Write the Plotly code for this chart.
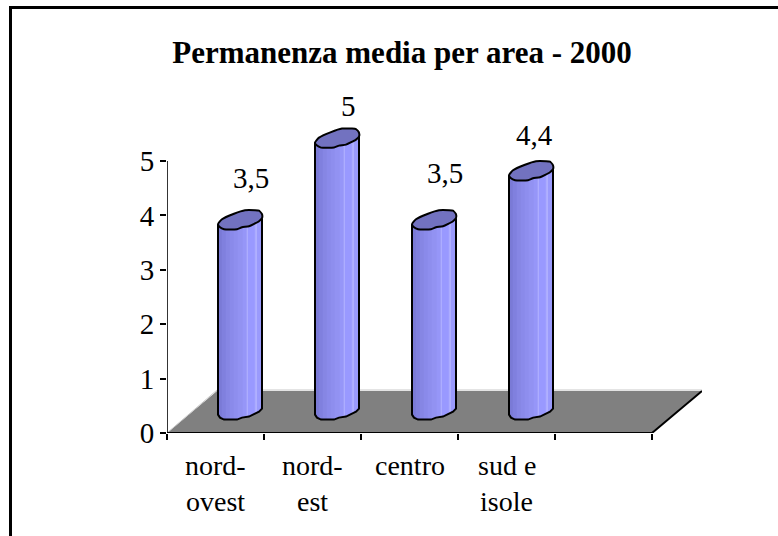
import numpy as np
import plotly.graph_objects as go

categories_line1 = ["nord-", "nord-", "centro", "sud e"]
categories_line2 = ["ovest", "est", "", "isole"]
values = [3.5, 5, 3.5, 4.4]
value_labels = ["3,5", "5", "3,5", "4,4"]
y_ticks = [0, 1, 2, 3, 4, 5]
x_ticks = [0, 1, 2, 3, 4, 5]
title = "Permanenza media per area - 2000"

W, H = 778, 536
L, R, B, T = 167, 702, 433, 70
PX_X = 97.0
PX_Y = 54.4
FONT = "Liberation Serif"

def ux(px):
    return px / PX_X
def uy(px):
    return px / PX_Y

fig = go.Figure()

DX, DY = 50, 42
fx = [0, 5, 5 + ux(DX), ux(DX), 0]
fy = [0, 0, uy(DY), uy(DY), 0]
fig.add_trace(go.Scatter(x=fx, y=fy, mode="lines", fill="toself", fillcolor="#808080",
                         line=dict(width=0), hoverinfo="skip", showlegend=False))
fig.add_trace(go.Scatter(x=[0, ux(DX), 5 + ux(DX)], y=[0, uy(DY + 1), uy(DY + 1)], mode="lines",
                         line=dict(color="#c8c8c8", width=1), hoverinfo="skip", showlegend=False))
fig.add_trace(go.Scatter(x=[5, 5 + ux(DX)], y=[0, uy(DY)], mode="lines",
                         line=dict(color="black", width=2), hoverinfo="skip", showlegend=False))

BW = 44
low_u = [0, 2, 6, 19, 24, 31, 41, 44]
low_v = [-5, -2, 0, 0, -2, -3, -8, -11]
top_u = [44, 41, 37, 27, 16, 4, 0]
top_v = [-15, -18.5, -19, -19, -15.5, -10, -5]
strip_edges = [0, 4, 8, 12, 16, 20, 25, 29, 30, 34, 37, 38, 39, 44]
strip_cols = ["#7a7ad6", "#8080de", "#8686e4", "#8a8aea", "#8e8eee", "#9292f2", "#9696f8",
              "#b4b4ff", "#9999ff", "#9999ff", "#a8a8ff", "#b8b8ff", "#9a9afc"]
BASE_PX = 13.4
OFF = 51

for i, v in enumerate(values):
    x0 = i * PX_X + OFF
    y_top_ref = v + uy(BASE_PX)
    y_bot_ref = uy(BASE_PX)
    def X(u):
        return (x0 + np.asarray(u, float)) / PX_X
    def Ylow(u, ref):
        return ref - np.interp(u, low_u, low_v) / PX_Y
    for j in range(len(strip_cols)):
        a, b = strip_edges[j], strip_edges[j + 1]
        xs = [X(a), X(b), X(b), X(a), X(a)]
        ys = [Ylow(a, y_bot_ref), Ylow(b, y_bot_ref), Ylow(b, y_top_ref), Ylow(a, y_top_ref), Ylow(a, y_bot_ref)]
        fig.add_trace(go.Scatter(x=xs, y=ys, mode="lines", fill="toself", fillcolor=strip_cols[j],
                                 line=dict(width=0.5, color=strip_cols[j]), hoverinfo="skip", showlegend=False))
    cx = list(X(low_u)) + list(X(top_u))
    cy = [y_top_ref - vv / PX_Y for vv in low_v] + [y_top_ref - vv / PX_Y for vv in top_v]
    fig.add_trace(go.Scatter(x=cx, y=cy, mode="lines", fill="toself", fillcolor="#7272c0",
                             line=dict(color="black", width=2, shape="spline", smoothing=0.5),
                             hoverinfo="skip", showlegend=False))
    ox = [X(0)] + list(X(low_u)) + [X(44)]
    oy = [y_top_ref - low_v[0] / PX_Y] + [y_bot_ref - vv / PX_Y for vv in low_v] + [y_top_ref - low_v[-1] / PX_Y]
    fig.add_trace(go.Scatter(x=ox, y=oy, mode="lines", line=dict(color="black", width=2),
                             hoverinfo="skip", showlegend=False))

fig.add_trace(go.Scatter(x=[0, 0], y=[0, 5], mode="lines", line=dict(color="black", width=1.6),
                         hoverinfo="skip", showlegend=False))
fig.add_trace(go.Scatter(x=[0, 5], y=[0, 0], mode="lines", line=dict(color="black", width=2),
                         hoverinfo="skip", showlegend=False))

annotations = []
label_dx = [0.37, 0.37, 0.37, 0.29]
for i, (txt, v) in enumerate(zip(value_labels, values)):
    annotations.append(dict(x=i + 0.5 + label_dx[i], y=v, text=txt, showarrow=False, xref="x", yref="y",
                            yshift=[65, 55, 70, 59][i], font=dict(family=FONT, size=29, color="black")))
for i in range(4):
    annotations.append(dict(x=i + 0.5, y=0, text=categories_line1[i], showarrow=False, xref="x", yref="y",
                            yshift=-32, font=dict(family=FONT, size=28, color="black")))
    if categories_line2[i]:
        annotations.append(dict(x=i + 0.5, y=0, text=categories_line2[i], showarrow=False, xref="x", yref="y",
                                yshift=-68, font=dict(family=FONT, size=28, color="black")))

def px_x(p):
    return (p - L) / (R - L)
def px_y(p):
    return (B - p) / (B - T)

fig.update_layout(
    width=W, height=H, autosize=False,
    paper_bgcolor="white", plot_bgcolor="white",
    margin=dict(l=L, r=W - R, t=T, b=H - B, pad=0),
    showlegend=False,
    title=dict(text="<b>" + title + "</b>", x=402 / W, xanchor="center", y=1 - 52 / H, yanchor="middle",
               font=dict(family=FONT, size=31, color="black")),
    xaxis=dict(range=[0, (R - L) / PX_X], tickmode="array", tickvals=x_ticks, ticktext=[""] * 6,
               ticks="outside", ticklen=6, tickwidth=1.6, tickcolor="black", showgrid=False,
               zeroline=False, showline=False, fixedrange=True),
    yaxis=dict(range=[0, (B - T) / PX_Y], tickmode="array", tickvals=y_ticks, ticktext=[str(t) for t in y_ticks],
               ticks="outside", ticklen=6, tickwidth=1.6, tickcolor="black", showgrid=False,
               zeroline=False, showline=False, fixedrange=True,
               tickfont=dict(family=FONT, size=29, color="black")),
    annotations=annotations,
    shapes=[
        dict(type="line", xref="paper", yref="paper", x0=px_x(9), x1=px_x(778), y0=px_y(7.5), y1=px_y(7.5),
             line=dict(color="black", width=3), layer="below"),
        dict(type="line", xref="paper", yref="paper", x0=px_x(10.5), x1=px_x(10.5), y0=px_y(6), y1=px_y(536),
             line=dict(color="black", width=3), layer="below"),
    ],
)
fig.write_html("out.html", post_script="document.body.style.margin='0';", config={"displayModeBar": False})
